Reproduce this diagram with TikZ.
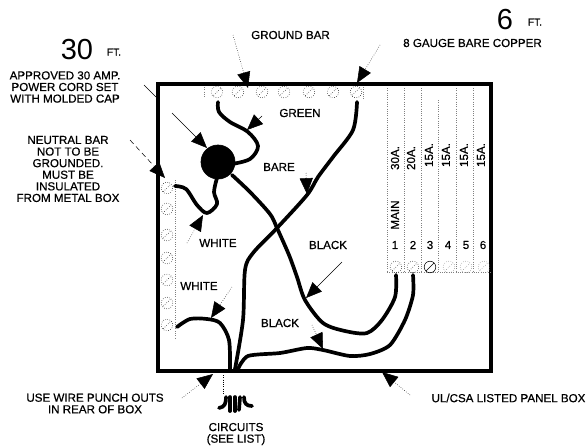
\documentclass[tikz,border=0pt]{standalone}
\usepackage{fontspec}
\setmainfont[AutoFakeBold=0.6]{Liberation Sans}
\usetikzlibrary{arrows.meta}

\tikzset{
  label/.style={inner sep=0pt,align=center,font=\fontsize{6.6}{6.6}\selectfont\bfseries},
  bigfig/.style={inner sep=0pt,font=\fontsize{16.5}{16.5}\selectfont},
  smallft/.style={inner sep=0pt,font=\fontsize{5.8}{6}\selectfont\bfseries},
  wire/.style={line width=2.1pt,line cap=round,line join=round},
  leader/.style={line width=0.3pt,densely dotted,-{Triangle[length=9pt,width=7.5pt]}},
  screw/.style={draw,circle,line width=0.3pt,densely dotted,minimum size=6.6pt,inner sep=0pt,
    path picture={\draw[line width=0.3pt] (path picture bounding box.north east) -- (path picture bounding box.south west);}},
  bar/.style={line width=0.3pt,black!50,densely dotted}
}

\begin{document}
\begin{tikzpicture}[x=0.02cm,y=-0.02cm]
  \useasboundingbox (0,0) rectangle (587,447);

  % Panel box
  \node[draw,line width=2.1pt,inner sep=0pt,minimum width=6.66cm,minimum height=5.74cm] (box) at (324.5,227.5) {};

  % Breaker strip
  \draw[bar] (387,88) -- (387,272);
  \draw[bar] (404,88) -- (404,272);
  \draw[bar] (421,88) -- (421,272);
  \draw[bar] (438,100) -- (438,272);
  \draw[bar] (456,88) -- (456,272);
  \draw[bar] (473,88) -- (473,272);
  \draw[bar] (387,272) -- (490,272);

  % Ground bar
  \draw[bar] (204,87) -- (204,98);
  \draw[bar] (363,87) -- (363,100);
  \node[screw,rotate=30] (g1) at (217,92) {};
  \node[screw,rotate=45] (g2) at (238,92) {};
  \node[screw,rotate=0] (g3) at (262,92) {};
  \node[screw,rotate=60] (g4) at (284,92) {};
  \node[screw,rotate=45] (g5) at (309,92) {};
  \node[screw,rotate=100] (g6) at (333,92) {};
  \node[screw,rotate=-20] (g7) at (356,92) {};

  % Neutral bar
  \draw[bar] (175,180) -- (175,338);
  \node[screw,rotate=80] (n1) at (167,188) {};
  \node[screw,rotate=0] (n2) at (167,209) {};
  \node[screw,rotate=60] (n3) at (167,235) {};
  \node[screw,rotate=90] (n4) at (167,258) {};
  \node[screw,rotate=20] (n5) at (167,280) {};
  \node[screw,rotate=60] (n6) at (167,303) {};
  \node[screw,rotate=100] (n7) at (167,325) {};

  % Breaker screws
  \node[screw,rotate=45] (b1) at (396,267) {};
  \node[screw,rotate=45] (b2) at (413,267) {};
  \node[screw,rotate=0,solid] (b3) at (430,267) {};
  \node[screw,rotate=0,black!50] (b4) at (449,267) {};
  \node[screw,rotate=0,black!50] (b5) at (466,267) {};
  \node[screw,rotate=60,black!50] (b6) at (484,267) {};

  % Cord cap
  \node[draw,fill=black,circle,minimum size=0.68cm,inner sep=0pt] (cap) at (218,162) {};

  % Wires
  \draw[wire] plot[smooth,tension=0.55] coordinates {(218,102) (219,112) (230,122) (248,132) (258,146) (250,159) (232,164)};
  \draw[wire] plot[smooth,tension=0.55] coordinates {(175,186) (186,189) (197,205) (207,213) (217,204) (214,192) (217,178)};
  \draw[wire] plot[smooth,tension=0.5] coordinates {(232,175) (250,192) (270,214) (277,228) (289,255) (297,277) (305,300) (323,323) (345,331) (367,333) (382,320) (395,297) (396,275)};
  \draw[wire] plot[smooth,tension=0.5] coordinates {(357,102) (353,130) (333,157) (318,177) (307,195) (277,228) (253,253) (245,270) (243,320) (235,369)};
  \draw[wire] plot[smooth,tension=0.5] coordinates {(177,327) (190,319) (207,319) (220,323) (229,340) (230,369)};
  \draw[wire] plot[smooth,tension=0.45] coordinates {(238,369) (248,356) (280,353) (307,348) (323,350) (350,356) (370,354) (390,345) (405,320) (413,295) (413,275)};

  % Wire ends below box
  \draw[wire] (235,397) -- (235,411);
  \draw[wire] (230,397) -- (230,411);
  \draw[wire] (240,397) -- (239,410);
  \draw[wire] (226,397) .. controls (226,403) and (225,407) .. (219,408);
  \draw[wire] (244,397) .. controls (244,403) and (246,406) .. (252,406);

  % Labels
  \node[bigfig] (thirty) at (77,50) {30};
  \node[smallft] (thirtyft) at (114,52) {FT.};
  \node[bigfig] (six) at (505,20) {6};
  \node[smallft] (sixft) at (535,22) {FT.};
  \node[label] (gauge) at (472.5,43) {8 GAUGE BARE COPPER};
  \node[label] (ground) at (290.5,35) {GROUND BAR};
  \node[label] (cord) at (65,87) {APPROVED 30 AMP.\\POWER CORD SET\\WITH MOLDED CAP};
  \node[label] (neutral) at (68,169) {NEUTRAL BAR\\NOT TO BE\\GROUNDED.\\MUST BE\\INSULATED\\FROM METAL BOX};
  \node[label] (green) at (300,113) {GREEN};
  \node[label] (bare) at (279,167) {BARE};
  \node[label] (white1) at (218,243) {WHITE};
  \node[label] (white2) at (199,286) {WHITE};
  \node[label] (black1) at (328,245) {BLACK};
  \node[label] (black2) at (280,323) {BLACK};
  \node[label] (punch) at (95,403.5) {USE WIRE PUNCH OUTS\\IN REAR OF BOX};
  \node[label] (circuits) at (236,434) {CIRCUITS\\(SEE LIST)};
  \node[label] (ul) at (508.5,398) {UL/CSA LISTED PANEL BOX};

  % Breaker labels
  \node[label,rotate=90] (a1) at (395,158) {30A.};
  \node[label,rotate=90] (a2) at (411,158) {20A.};
  \node[label,rotate=90] (a3) at (429,155) {15A.};
  \node[label,rotate=90] (a4) at (446,155) {15A.};
  \node[label,rotate=90] (a5) at (464,155) {15A.};
  \node[label,rotate=90] (a6) at (481,155) {15A.};
  \node[label,rotate=90] (mainlbl) at (395,215) {MAIN};
  \node[label] (c1) at (395,245) {1};
  \node[label] (c2) at (413,245) {2};
  \node[label] (c3) at (430,245) {3};
  \node[label] (c4) at (448,245) {4};
  \node[label] (c5) at (466,245) {5};
  \node[label] (c6) at (483,245) {6};

  % Leaders
  \coordinate (lGround) at (233,35);
  \coordinate (tGround) at (248,88);
  \coordinate (lGauge) at (380,45);
  \coordinate (tGauge) at (357,83);
  \coordinate (lCord) at (172,113);
  \coordinate (tCord) at (207,148);
  \coordinate (lCordA) at (144,85);
  \coordinate (tCordA) at (156,97);
  \coordinate (lGreen) at (262,116);
  \coordinate (tGreen) at (247,130);
  \coordinate (lNeutral) at (130,140);
  \coordinate (tNeutral) at (165,178);
  \coordinate (lBare) at (306,173);
  \coordinate (tBare) at (307,194);
  \coordinate (lWhite) at (187,243);
  \coordinate (tWhite) at (203,215);
  \coordinate (lWhiteB) at (232,287);
  \coordinate (tWhiteB) at (211,318);
  \coordinate (lBlack) at (342,262);
  \coordinate (tBlack) at (306,298);
  \coordinate (lBlackB) at (312,325);
  \coordinate (tBlackB) at (323,349);
  \coordinate (lPunch) at (182,398);
  \coordinate (tPunch) at (213,374);
  \coordinate (lPanel) at (410,395);
  \coordinate (tPanel) at (382,372);
  \coordinate (lList) at (223,375);
  \coordinate (tList) at (223,395);

  \draw[leader] (lGround) -- (tGround);
  \draw[leader] (lGauge) -- (tGauge);
  \draw[leader,solid] (lCord) -- (tCord);
  \draw[line width=0.3pt] (lCordA) -- (tCordA);
  \draw[leader,solid] (lGreen) -- (tGreen);
  \draw[leader,densely dashed] (lNeutral) -- (tNeutral);
  \draw[leader] (lBare) -- (tBare);
  \draw[leader] (lWhite) -- (tWhite);
  \draw[leader] (lWhiteB) -- (tWhiteB);
  \draw[leader,solid] (lBlack) -- (tBlack);
  \draw[leader] (lBlackB) -- (tBlackB);
  \draw[leader] (lPunch) -- (tPunch);
  \draw[leader] (lPanel) -- (tPanel);
  \draw[line width=0.3pt,densely dotted] (lList) -- (tList);
\end{tikzpicture}
\end{document}
